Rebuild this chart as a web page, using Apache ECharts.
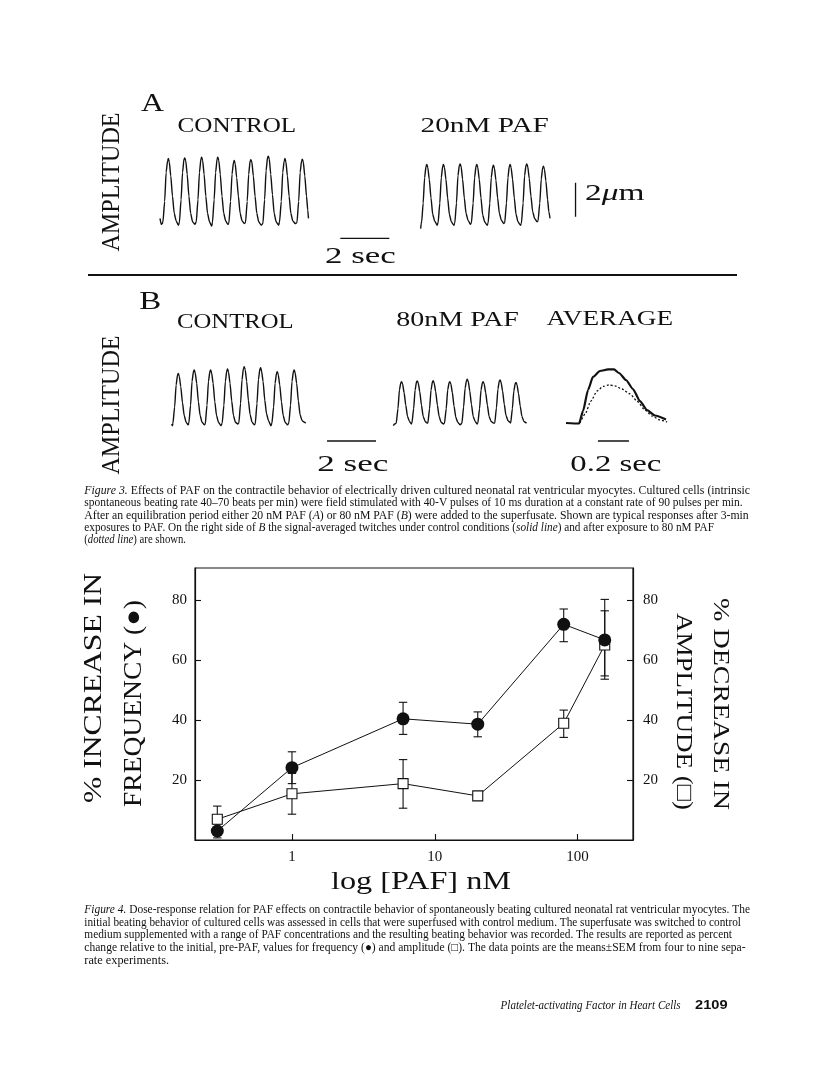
<!DOCTYPE html>
<html><head><meta charset="utf-8">
<script src="https://cdn.jsdelivr.net/npm/echarts@6/dist/echarts.min.js"></script>
<style>html,body{margin:0;padding:0;background:#fff}#c{width:816px;height:1066px}</style>
</head><body><div id="c"></div>
<script>
// ================= DATA =================
// ---- Figure 4: dose-response ----
const concNM       = [0.3, 1, 6, 20, 80, 155];
const freqIncrease = [3.0, 24.1, 40.4, 38.6, 71.9, 66.7];
const freqLow      = [0.7, 18.8, 35.2, 34.4, 66.1, 54.7];
const freqHigh     = [5.3, 29.4, 45.9, 42.7, 77.0, 76.4];
const ampDecrease  = [6.9, 15.4, 18.8, 14.7, 38.9, 65.0];
const ampLow       = [2.4, 8.6, 10.6, 14.7, 34.2, 53.6];
const ampHigh      = [11.3, 22.2, 26.8, 14.7, 43.3, 80.2];
const xTickLabels  = [1, 10, 100];
const yTickLabels  = [20, 40, 60, 80];

// ---- Figure 3: twitch traces  [time s, displacement um] ----
const controlA = [[0,0.3],[0.05,-0.05],[0.09,0.0],
 [0.12,0.1],[0.19,1.3],[0.25,3.0],[0.31,3.7],[0.34,3.82],[0.38,3.6],[0.44,2.8],[0.51,1.6],[0.58,0.6],[0.66,0.15],[0.75,-0.1],
 [0.79,0.05],[0.86,1.4],[0.92,3.0],[0.98,3.8],[1.01,3.86],[1.05,3.7],[1.11,2.9],[1.18,1.6],[1.25,0.6],[1.33,0.1],[1.43,-0.05],
 [1.48,0.1],[1.55,1.4],[1.61,3.0],[1.67,3.8],[1.70,3.90],[1.74,3.7],[1.80,2.9],[1.87,1.6],[1.94,0.6],[2.02,0.1],[2.11,-0.15],
 [2.14,0.05],[2.21,1.4],[2.27,3.0],[2.33,3.8],[2.36,3.90],[2.40,3.7],[2.46,2.9],[2.53,1.6],[2.60,0.6],[2.68,0.15],[2.77,-0.05],
 [2.81,0.0],[2.88,1.3],[2.94,2.9],[3.00,3.6],[3.03,3.71],[3.07,3.5],[3.13,2.7],[3.20,1.6],[3.27,0.6],[3.35,0.15],[3.44,0.0],
 [3.49,0.05],[3.56,1.3],[3.62,2.9],[3.68,3.7],[3.71,3.76],[3.75,3.6],[3.81,2.8],[3.88,1.6],[3.95,0.6],[4.03,0.1],[4.13,-0.1],
 [4.20,0.0],[4.27,1.4],[4.33,3.1],[4.39,3.9],[4.42,3.96],[4.46,3.8],[4.52,2.9],[4.59,1.7],[4.66,0.6],[4.74,0.1],[4.84,-0.1],
 [4.88,0.1],[4.95,1.3],[5.01,3.0],[5.07,3.7],[5.10,3.82],[5.14,3.6],[5.20,2.8],[5.27,1.6],[5.34,0.6],[5.42,0.15],[5.52,0.0],
 [5.59,0.05],[5.66,1.3],[5.72,3.0],[5.78,3.7],[5.81,3.78],[5.85,3.6],[5.91,2.8],[5.98,1.6],[6.03,0.8],[6.06,0.3]];
const pafA20 = [[0,-0.3],[0.02,0.0],
 [0.04,0.1],[0.10,1.2],[0.16,2.7],[0.22,3.4],[0.25,3.47],[0.29,3.3],[0.35,2.6],[0.42,1.5],[0.49,0.55],[0.57,0.15],[0.67,-0.1],
 [0.71,0.05],[0.78,1.2],[0.84,2.7],[0.90,3.4],[0.93,3.47],[0.97,3.3],[1.03,2.6],[1.10,1.5],[1.17,0.55],[1.25,0.1],[1.35,-0.1],
 [1.39,0.0],[1.46,1.2],[1.52,2.8],[1.58,3.45],[1.61,3.51],[1.65,3.35],[1.71,2.6],[1.78,1.5],[1.85,0.6],[1.93,0.2],[2.03,-0.05],
 [2.07,0.05],[2.14,1.2],[2.20,2.7],[2.26,3.4],[2.29,3.47],[2.33,3.3],[2.39,2.6],[2.46,1.5],[2.53,0.5],[2.61,0.1],[2.71,-0.1],
 [2.75,0.0],[2.82,1.2],[2.88,2.7],[2.94,3.35],[2.97,3.43],[3.01,3.25],[3.07,2.55],[3.14,1.5],[3.21,0.6],[3.29,0.2],[3.39,0.0],
 [3.43,0.05],[3.50,1.2],[3.56,2.7],[3.62,3.4],[3.65,3.47],[3.69,3.3],[3.75,2.6],[3.82,1.5],[3.89,0.55],[3.97,0.1],[4.07,-0.1],
 [4.11,0.0],[4.18,1.2],[4.24,2.8],[4.30,3.45],[4.33,3.51],[4.37,3.35],[4.43,2.65],[4.50,1.6],[4.57,0.7],[4.65,0.3],[4.75,0.1],
 [4.79,0.15],[4.86,1.2],[4.92,2.6],[4.98,3.3],[5.01,3.37],[5.05,3.2],[5.11,2.5],[5.18,1.4],[5.23,0.7],[5.28,0.3]];
const controlB = [[0,0.0],[0.03,-0.1],
 [0.05,0.05],[0.12,1.0],[0.18,2.3],[0.24,2.9],[0.27,2.98],[0.31,2.8],[0.37,2.2],[0.44,1.25],[0.51,0.5],[0.59,0.1],[0.67,-0.05],
 [0.70,0.05],[0.77,1.1],[0.83,2.5],[0.89,3.1],[0.92,3.18],[0.96,3.0],[1.02,2.4],[1.09,1.3],[1.16,0.5],[1.24,0.1],[1.34,-0.05],
 [1.37,0.0],[1.44,1.1],[1.50,2.5],[1.56,3.1],[1.59,3.18],[1.63,3.0],[1.69,2.4],[1.76,1.3],[1.83,0.5],[1.91,0.1],[2.01,-0.1],
 [2.06,0.05],[2.13,1.1],[2.19,2.5],[2.25,3.15],[2.28,3.24],[2.32,3.05],[2.38,2.4],[2.45,1.35],[2.52,0.5],[2.60,0.1],[2.70,0.0],
 [2.74,0.05],[2.81,1.2],[2.87,2.6],[2.93,3.3],[2.96,3.37],[3.00,3.2],[3.06,2.5],[3.13,1.4],[3.20,0.55],[3.28,0.1],[3.38,-0.05],
 [3.41,0.0],[3.48,1.2],[3.54,2.6],[3.60,3.25],[3.63,3.31],[3.67,3.1],[3.73,2.5],[3.80,1.4],[3.87,0.6],[3.95,0.2],[4.05,-0.1],
 [4.09,0.05],[4.16,1.0],[4.22,2.4],[4.28,3.0],[4.31,3.08],[4.35,2.9],[4.41,2.3],[4.48,1.3],[4.55,0.5],[4.63,0.1],[4.73,-0.05],
 [4.78,0.05],[4.85,1.1],[4.91,2.5],[4.97,3.1],[5.00,3.18],[5.04,3.0],[5.10,2.4],[5.17,1.35],[5.24,0.55],[5.32,0.2],[5.42,0.1],[5.47,0.05]];
const pafB80 = [[0,-0.1],[0.05,0.0],
 [0.12,0.05],[0.19,0.9],[0.25,2.0],[0.31,2.45],[0.34,2.49],[0.38,2.35],[0.44,1.85],[0.51,1.1],[0.58,0.45],[0.66,0.15],[0.74,0.0],
 [0.76,0.05],[0.83,0.9],[0.89,2.0],[0.95,2.5],[0.98,2.53],[1.02,2.4],[1.08,1.9],[1.15,1.1],[1.22,0.45],[1.30,0.15],[1.38,0.05],
 [1.41,0.05],[1.48,0.9],[1.54,2.0],[1.60,2.5],[1.63,2.55],[1.67,2.4],[1.73,1.9],[1.80,1.1],[1.87,0.45],[1.95,0.1],[2.05,0.0],
 [2.09,0.05],[2.16,0.9],[2.22,2.0],[2.28,2.45],[2.31,2.49],[2.35,2.35],[2.41,1.85],[2.48,1.05],[2.55,0.4],[2.63,0.1],[2.73,-0.05],
 [2.80,0.05],[2.87,1.0],[2.93,2.1],[2.99,2.58],[3.02,2.63],[3.06,2.5],[3.12,1.95],[3.19,1.15],[3.26,0.45],[3.34,0.15],[3.42,0.0],
 [3.45,0.05],[3.52,0.9],[3.58,2.0],[3.64,2.45],[3.67,2.49],[3.71,2.35],[3.77,1.85],[3.84,1.1],[3.91,0.45],[3.99,0.15],[4.09,0.05],
 [4.14,0.05],[4.21,0.95],[4.27,2.05],[4.33,2.55],[4.36,2.59],[4.40,2.45],[4.46,1.95],[4.53,1.15],[4.60,0.5],[4.68,0.2],[4.76,0.1],
 [4.79,0.05],[4.86,0.9],[4.92,1.95],[4.98,2.4],[5.01,2.45],[5.05,2.3],[5.11,1.8],[5.18,1.05],[5.25,0.45],[5.33,0.15],[5.44,0.05]];
const avgControl = [[0,0.0],[0.084,-0.03],[0.110,0.71],[0.142,1.94],[0.174,2.71],[0.219,3.06],[0.271,3.15],
 [0.310,3.15],[0.342,2.94],[0.387,2.53],[0.432,2.00],[0.477,1.29],[0.523,0.76],[0.574,0.44],[0.645,0.21]];
const avgPaf80 = [[0.090,0.0],[0.123,0.53],[0.161,1.29],[0.200,1.88],[0.239,2.15],[0.277,2.24],[0.316,2.18],
 [0.361,2.00],[0.413,1.71],[0.458,1.29],[0.510,0.76],[0.555,0.41],[0.606,0.18],[0.652,0.06]];
// scale bars (data units of their panels)
const barA2sec = [[7.36,-0.87],[9.36,-0.87]];
const barA2um  = [[6.32,0.40],[6.32,2.40]];
const barB2sec = [[6.34,-1.0],[8.34,-1.0]];
const barAvg02 = [[0.206,-1.06],[0.406,-1.06]];

// ================= LAYOUT =================
const INK = '#111111';
const SERIF = "'Liberation Serif', 'DejaVu Serif', serif";
const PXS = 24.5, PXU = 17, PXS_AVG = 155;
function traceGrid(left, baseline, tmax, pxs) {
  return { left: left, width: tmax * pxs, top: baseline - 4.5 * PXU, height: 6 * PXU };
}
const grids = [
  traceGrid(160, 223.5, 9.5, PXS),     // A control
  traceGrid(420.7, 223.5, 6.5, PXS),   // A 20 nM PAF
  traceGrid(171.7, 424, 8.5, PXS),     // B control
  traceGrid(393.3, 424, 5.6, PXS),     // B 80 nM PAF
  traceGrid(566, 423, 0.7, PXS_AVG),   // B average
  { left: 195, top: 568, width: 438, height: 272, show: true, borderColor: INK, borderWidth: 1.2 }
];
const tmaxs = [9.5, 6.5, 8.5, 5.6, 0.7];

const canvas = document.createElement('canvas');
const ctx = canvas.getContext('2d');
function measure(t, size, fam, style, weight) {
  ctx.font = (style || 'normal') + ' ' + (weight || 'normal') + ' ' + size + 'px ' + fam;
  return ctx.measureText(t).width;
}
function txt(s) {
  const fam = s.family || SERIF;
  const segs = s.segs || [[s.text, 0]];
  const weight = s.weight || 'normal';
  let natural = 0;
  segs.forEach(function (g) { natural += measure(g[0], s.size, fam, (g[1] || s.italic) ? 'italic' : 'normal', weight); });
  const text = segs.map(function (g) { return g[1] ? '{i|' + g[0] + '}' : g[0]; }).join('');
  return {
    type: 'text', x: s.x, y: s.y, rotation: s.rot || 0,
    scaleX: s.width ? s.width / natural : 1, silent: true,
    style: {
      text: text, fill: INK, fontSize: s.size, fontFamily: fam, fontWeight: weight,
      fontStyle: s.italic ? 'italic' : 'normal',
      textAlign: s.align || 'left', textVerticalAlign: 'middle',
      rich: { i: { fontStyle: 'italic', fontSize: s.size, fontFamily: fam, fill: INK } }
    }
  };
}
const R = Math.PI / 2;
const cap = 12;
const texts = [
  // Figure 3 A
  { text: 'A', x: 141, y: 104, size: 26, width: 23 },
  { text: 'AMPLITUDE', x: 112, y: 182, size: 26, width: 139, rot: R, align: 'center' },
  { text: 'CONTROL', x: 177.6, y: 126.7, size: 21, width: 118.6 },
  { text: '20nM PAF', x: 420.6, y: 126.7, size: 21, width: 128.2 },
  { segs: [['2', 0], ['\u03bc', 1], ['m', 0]], x: 585, y: 194, size: 24, width: 59.5 },
  { text: '2 sec', x: 325, y: 257, size: 23, width: 70.7 },
  // Figure 3 B
  { text: 'B', x: 139.3, y: 302.5, size: 26, width: 22 },
  { text: 'AMPLITUDE', x: 112, y: 405, size: 26, width: 139, rot: R, align: 'center' },
  { text: 'CONTROL', x: 177, y: 322.5, size: 21, width: 116.6 },
  { text: '80nM PAF', x: 396.3, y: 320, size: 21, width: 122.6 },
  { text: 'AVERAGE', x: 546.6, y: 319, size: 21, width: 126.5 },
  { text: '2 sec', x: 317.3, y: 465, size: 23, width: 71 },
  { text: '0.2 sec', x: 570.3, y: 465, size: 23, width: 91 },
  // Figure 3 caption
  { segs: [['Figure 3.', 1], [' Effects of PAF on the contractile behavior of electrically driven cultured neonatal rat ventricular myocytes. Cultured cells (intrinsic', 0]], x: 84.3, y: 490.7, size: cap, width: 665.7 },
  { text: 'spontaneous beating rate 40\u201370 beats per min) were field stimulated with 40-V pulses of 10 ms duration at a constant rate of 90 pulses per min.', x: 84.3, y: 503, size: cap, width: 658.3 },
  { segs: [['After an equilibration period either 20 nM PAF (', 0], ['A', 1], [') or 80 nM PAF (', 0], ['B', 1], [') were added to the superfusate. Shown are typical responses after 3-min', 0]], x: 84.3, y: 515.7, size: cap, width: 664.4 },
  { segs: [['exposures to PAF. On the right side of ', 0], ['B', 1], [' the signal-averaged twitches under control conditions (', 0], ['solid line', 1], [') and after exposure to 80 nM PAF', 0]], x: 84.3, y: 528, size: cap, width: 629.7 },
  { segs: [['(', 0], ['dotted line', 1], [') are shown.', 0]], x: 84.3, y: 540.3, size: cap, width: 101.7 },
  // Figure 4 axis names
  { text: '% INCREASE IN', x: 94.5, y: 688, size: 25, width: 230, rot: R, align: 'center' },
  { text: 'FREQUENCY (\u25cf)', x: 134, y: 703.5, size: 25, width: 207, rot: R, align: 'center' },
  { text: '% DECREASE IN', x: 720, y: 704, size: 24, width: 212, rot: -R, align: 'center' },
  { text: 'AMPLITUDE (\u25a1)', x: 683, y: 711.5, size: 24, width: 197, rot: -R, align: 'center' },
  { text: 'log [PAF] nM', x: 421, y: 882.5, size: 26, width: 180, align: 'center' },
  // Figure 4 caption
  { segs: [['Figure 4.', 1], [' Dose-response relation for PAF effects on contractile behavior of spontaneously beating cultured neonatal rat ventricular myocytes. The', 0]], x: 84.3, y: 910, size: cap, width: 665.7 },
  { text: 'initial beating behavior of cultured cells was assessed in cells that were superfused with control medium. The superfusate was switched to control', x: 84.3, y: 922.7, size: cap, width: 656.7 },
  { text: 'medium supplemented with a range of PAF concentrations and the resulting beating behavior was recorded. The results are reported as percent', x: 84.3, y: 935, size: cap, width: 647.7 },
  { text: 'change relative to the initial, pre-PAF, values for frequency (\u25cf) and amplitude (\u25a1). The data points are the means\u00b1SEM from four to nine sepa-', x: 84.3, y: 947.7, size: cap, width: 661.3 },
  { text: 'rate experiments.', x: 84.3, y: 961, size: cap, width: 84.7 },
  // footer
  { text: 'Platelet-activating Factor in Heart Cells', x: 500.6, y: 1005.5, size: 12, width: 180, italic: true },
  { text: '2109', x: 695, y: 1005.5, size: 12, width: 32.5, weight: 'bold', family: "'Liberation Sans', Arial, sans-serif" }
];
const graphicEls = texts.map(txt);
graphicEls.push({ type: 'line', silent: true, shape: { x1: 88, y1: 275, x2: 737, y2: 275 }, style: { stroke: INK, lineWidth: 2.2 } });

// ================= AXES & SERIES =================
const xAxes = [], yAxes = [];
for (let i = 0; i < 5; i++) {
  xAxes.push({ gridIndex: i, type: 'value', min: 0, max: tmaxs[i], show: false });
  yAxes.push({ gridIndex: i, type: 'value', min: -1.5, max: 4.5, show: false });
}
const logTicks = xTickLabels.map(Math.log10);
const axisLine = { show: true, onZero: false, lineStyle: { color: INK, width: 1.2 } };
const tickFont = { fontFamily: SERIF, fontSize: 15, color: INK };
xAxes.push({
  gridIndex: 5, type: 'value', min: Math.log10(0.2094), max: Math.log10(244.5),
  axisLine: axisLine, splitLine: { show: false },
  axisTick: { inside: true, length: 6, lineStyle: { color: INK, width: 1.1 }, customValues: logTicks },
  axisLabel: Object.assign({ margin: 10, customValues: logTicks,
    formatter: function (v) { return String(Math.round(Math.pow(10, v))); } }, tickFont)
});
['left', 'right'].forEach(function (pos) {
  yAxes.push({
    gridIndex: 5, type: 'value', position: pos, min: 0, max: 272 / 3,
    axisLine: axisLine, splitLine: { show: false },
    axisTick: { inside: true, length: 6, lineStyle: { color: INK, width: 1.1 }, customValues: yTickLabels },
    axisLabel: Object.assign({ margin: pos === 'left' ? 8 : 10, customValues: yTickLabels }, tickFont)
  });
});

function traceSeries(data, idx, extra) {
  return Object.assign({
    type: 'line', data: data, xAxisIndex: idx, yAxisIndex: idx, showSymbol: false, symbol: 'none',
    smooth: 0.2, smoothMonotone: 'x', silent: true,
    lineStyle: { color: INK, width: 1.4 }
  }, extra || {});
}
function barSeries(data, idx) {
  return { type: 'line', data: data, xAxisIndex: idx, yAxisIndex: idx, symbol: 'none', silent: true,
    lineStyle: { color: INK, width: 1.3 } };
}
function errRender(params, api) {
  const x = api.value(0);
  const lo = api.coord([x, api.value(1)]);
  const hi = api.coord([x, api.value(2)]);
  const w = 4.2, st = { stroke: INK, lineWidth: 1.1 };
  return { type: 'group', children: [
    { type: 'line', shape: { x1: lo[0], y1: lo[1], x2: hi[0], y2: hi[1] }, style: st },
    { type: 'line', shape: { x1: lo[0] - w, y1: lo[1], x2: lo[0] + w, y2: lo[1] }, style: st },
    { type: 'line', shape: { x1: hi[0] - w, y1: hi[1], x2: hi[0] + w, y2: hi[1] }, style: st }
  ] };
}
const logX = concNM.map(Math.log10);
const series = [
  traceSeries(controlA, 0), traceSeries(pafA20, 1), traceSeries(controlB, 2), traceSeries(pafB80, 3),
  traceSeries(avgControl, 4, { lineStyle: { color: INK, width: 2.2 } }),
  traceSeries(avgPaf80, 4, { lineStyle: { color: INK, width: 1.3, type: [2, 2] } }),
  barSeries(barA2sec, 0), barSeries(barA2um, 1), barSeries(barB2sec, 2), barSeries(barAvg02, 4),
  { type: 'custom', xAxisIndex: 5, yAxisIndex: 5, renderItem: errRender, silent: true, z: 1,
    encode: { x: 0, y: [1, 2] }, data: logX.map(function (x, i) { return [x, ampLow[i], ampHigh[i]]; }) },
  { type: 'custom', xAxisIndex: 5, yAxisIndex: 5, renderItem: errRender, silent: true, z: 1,
    encode: { x: 0, y: [1, 2] }, data: logX.map(function (x, i) { return [x, freqLow[i], freqHigh[i]]; }) },
  { type: 'line', xAxisIndex: 5, yAxisIndex: 5, z: 2, silent: true,
    data: logX.map(function (x, i) { return [x, ampDecrease[i]]; }),
    symbol: 'rect', symbolSize: 10, lineStyle: { color: INK, width: 1 },
    itemStyle: { color: '#fff', borderColor: INK, borderWidth: 1.1 } },
  { type: 'line', xAxisIndex: 5, yAxisIndex: 5, z: 3, silent: true,
    data: logX.map(function (x, i) { return [x, freqIncrease[i]]; }),
    symbol: 'circle', symbolSize: 13, lineStyle: { color: INK, width: 1 },
    itemStyle: { color: INK } }
];

const chart = echarts.init(document.getElementById('c'), null, { renderer: 'canvas', width: 816, height: 1066 });
chart.setOption({
  backgroundColor: '#fff', animation: false,
  grid: grids, xAxis: xAxes, yAxis: yAxes, series: series,
  graphic: { elements: graphicEls }
});
</script></body></html>
